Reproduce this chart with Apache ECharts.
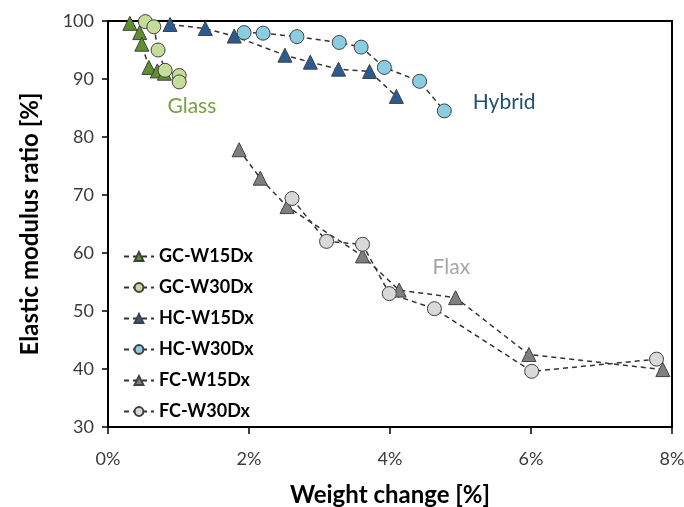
<!DOCTYPE html>
<html>
<head>
<meta charset="utf-8">
<script src="https://cdn.jsdelivr.net/npm/echarts@6/dist/echarts.min.js"></script>
<style>
  html, body { margin: 0; padding: 0; background: #fff; }
  #chart { width: 684px; height: 507px; }
</style>
</head>
<body>
<div id="chart"></div>
<script>
// Weight change [%] (x) and elastic modulus ratio [%] (y) per specimen series
const gcW15x = [0.31, 0.45, 0.48, 0.58, 0.70, 0.80];
const gcW15y = [99.6, 98.0, 96.0, 92.0, 91.4, 91.0];
const gcW30x = [0.53, 0.65, 0.71, 0.81, 1.01, 1.01];
const gcW30y = [99.9, 99.0, 95.0, 91.5, 90.6, 89.5];
const hcW15x = [0.88, 1.38, 1.79, 2.51, 2.87, 3.27, 3.71, 4.09];
const hcW15y = [99.4, 98.7, 97.4, 94.1, 92.9, 91.7, 91.3, 87.0];
const hcW30x = [1.93, 2.20, 2.68, 3.28, 3.59, 3.92, 4.42, 4.77];
const hcW30y = [98.0, 97.9, 97.3, 96.3, 95.5, 92.0, 89.6, 84.5];
const fcW15x = [1.86, 2.16, 2.54, 3.61, 4.13, 4.93, 5.97, 7.87];
const fcW15y = [77.8, 72.9, 68.0, 59.5, 53.6, 52.3, 42.5, 39.9];
const fcW30x = [2.61, 3.10, 3.61, 3.99, 4.63, 6.01, 7.78];
const fcW30y = [69.4, 62.0, 61.5, 53.0, 50.4, 39.6, 41.7];

const xTicks = [0, 2, 4, 6, 8];
const yTicks = [30, 40, 50, 60, 70, 80, 90, 100];

const groupLabels = [
  { text: 'Glass',  x: 1.19, y: 85.3, color: '#77a140' },
  { text: 'Hybrid', x: 5.62, y: 86.0, color: '#1f4e79' },
  { text: 'Flax',   x: 4.87, y: 57.6, color: '#a6a6a6' }
];

const FONT = 'Lato, "Open Sans", sans-serif';

function pairs(xs, ys) { return xs.map((x, i) => [x, ys[i]]); }

function makeSeries(name, xs, ys, symbol, fill) {
  return {
    name: name,
    type: 'line',
    data: pairs(xs, ys),
    symbol: symbol,
    symbolSize: 14,
    showSymbol: true,
    lineStyle: { color: '#333', width: 1.5, type: [5, 4] },
    itemStyle: { color: fill, borderColor: '#404040', borderWidth: 1 },
    emphasis: { disabled: true },
    animation: false
  };
}

const series = [
  makeSeries('GC-W15Dx', gcW15x, gcW15y, 'triangle', '#5f8f2e'),
  makeSeries('GC-W30Dx', gcW30x, gcW30y, 'circle', '#c4dd98'),
  makeSeries('HC-W15Dx', hcW15x, hcW15y, 'triangle', '#2c5a92'),
  makeSeries('HC-W30Dx', hcW30x, hcW30y, 'circle', '#8acde0'),
  makeSeries('FC-W15Dx', fcW15x, fcW15y, 'triangle', '#7f7f7f'),
  makeSeries('FC-W30Dx', fcW30x, fcW30y, 'circle', '#d9d9d9')
];

const chart = echarts.init(document.getElementById('chart'), null, { renderer: 'canvas' });

chart.setOption({
  animation: false,
  backgroundColor: '#fff',
  grid: {
    left: 108, right: 12, top: 21, bottom: 80,
    containLabel: false,
    outerBoundsMode: 'none',
    show: true, borderColor: '#000', borderWidth: 2, backgroundColor: 'transparent'
  },
  legend: {
    orient: 'vertical',
    left: 118, top: 242,
    itemWidth: 30, itemHeight: 11,
    itemGap: 12,
    data: series.map(s => s.name),
    textStyle: { fontFamily: FONT, fontWeight: 'bold', fontSize: 18, color: '#000', lineHeight: 19 },
    selectedMode: false
  },
  xAxis: {
    type: 'value',
    min: xTicks[0], max: xTicks[xTicks.length - 1], interval: 2,
    name: 'Weight change [%]',
    nameLocation: 'middle', nameGap: 56,
    nameTextStyle: { fontFamily: FONT, fontWeight: 'bold', fontSize: 24, color: '#000' },
    axisLine: { lineStyle: { color: '#000', width: 2 } },
    axisTick: { show: true, length: 7, inside: false, lineStyle: { color: '#000', width: 1.5 } },
    axisLabel: { formatter: v => v + '%', fontFamily: FONT, fontSize: 18, color: '#3a3a3a', margin: 23 },
    splitLine: { show: false }
  },
  yAxis: {
    type: 'value',
    min: yTicks[0], max: yTicks[yTicks.length - 1], interval: 10,
    name: 'Elastic modulus ratio [%]',
    nameLocation: 'middle', nameGap: 66,
    nameTextStyle: { fontFamily: FONT, fontWeight: 'bold', fontSize: 24, color: '#000' },
    axisLine: { lineStyle: { color: '#000', width: 2 } },
    axisTick: { show: true, length: 6, inside: false, lineStyle: { color: '#000', width: 1.5 } },
    axisLabel: { fontFamily: FONT, fontSize: 18, color: '#3a3a3a', margin: 14 },
    splitLine: { show: false }
  },
  series: series
});

// Group names placed at data coordinates
chart.setOption({
  graphic: groupLabels.map(g => {
    const p = chart.convertToPixel({ gridIndex: 0 }, [g.x, g.y]);
    return {
      type: 'text', x: p[0], y: p[1],
      style: {
        text: g.text, fill: g.color, font: '21px ' + FONT,
        textAlign: 'center', textVerticalAlign: 'middle'
      }
    };
  })
});
</script>
</body>
</html>
